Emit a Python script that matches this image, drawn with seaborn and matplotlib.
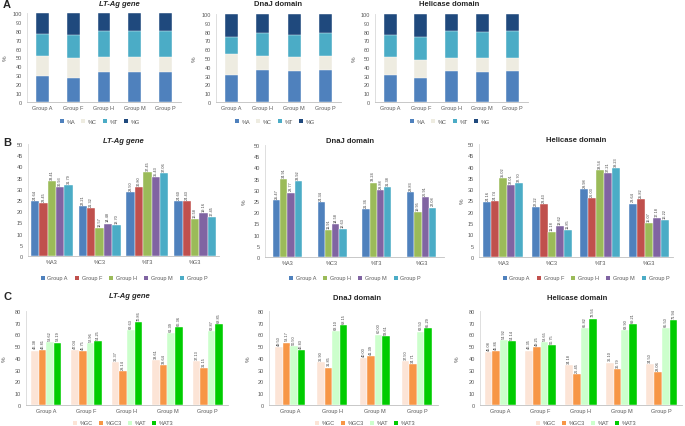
import numpy as np
import pandas as pd
import seaborn as sns
import matplotlib.pyplot as plt
from matplotlib.patches import Patch

sns.set_style('white')
plt.rcParams['font.family'] = ['Liberation Sans', 'DejaVu Sans']

W, H = 685, 427

# ---- data ----
groups5 = ['Group A', 'Group F', 'Group H', 'Group M', 'Group P']
groups4 = ['Group A', 'Group H', 'Group M', 'Group P']
bases = ['%A', '%C', '%T', '%G']
pos3 = ['%A3', '%C3', '%T3', '%G3']
content = ['%GC', '%GC3', '%AT', '%AT3']

# A: overall base composition per group
lt_A = [29.5, 27.3, 34.2, 33.2, 33.3]
lt_C = [22.5, 21.9, 16.3, 17.9, 17.2]
lt_T = [24.1, 25.7, 29.4, 28.2, 29.6]
lt_G = [23.9, 25.1, 20.1, 20.7, 19.9]

dj_A = [31.0, 36.8, 35.0, 36.2]
dj_C = [23.7, 15.8, 16.5, 15.8]
dj_T = [19.5, 26.3, 25.0, 26.3]
dj_G = [25.8, 21.1, 23.5, 21.7]

he_A = [30.2, 27.5, 35.5, 34.2, 35.0]
he_C = [20.8, 20.4, 14.5, 15.6, 14.8]
he_T = [24.7, 26.1, 30.3, 29.7, 30.5]
he_G = [24.3, 26.0, 19.7, 20.5, 19.7]

# B: third codon position composition (per group: A3, C3, T3, G3)
lt_pos3 = {
    'Group A': [24.64, 22.21, 28.50, 24.60],
    'Group F': [23.45, 21.32, 30.80, 24.43],
    'Group H': [33.41, 12.57, 37.45, 16.58],
    'Group M': [30.93, 14.48, 35.43, 19.16],
    'Group P': [31.79, 13.70, 37.06, 17.45],
}
dj_pos3 = {
    'Group A': [25.47, 24.34, 21.36, 28.83],
    'Group H': [34.91, 11.91, 33.24, 19.95],
    'Group M': [28.77, 14.58, 29.88, 26.91],
    'Group P': [33.92, 12.63, 31.38, 22.08],
}
he_pos3 = {
    'Group A': [24.16, 22.22, 29.98, 23.64],
    'Group F': [24.74, 23.43, 26.03, 25.82],
    'Group H': [35.02, 11.18, 38.54, 15.07],
    'Group M': [32.01, 13.62, 37.21, 17.18],
    'Group P': [32.70, 11.85, 39.23, 16.22],
}

# C: GC / AT content (per measure, over groups)
lt_content = {
    '%GC': [46.38, 47.04, 36.37, 38.61, 37.13],
    '%GC3': [46.81, 45.75, 29.14, 33.64, 31.15],
    '%AT': [53.62, 52.96, 63.63, 61.39, 62.87],
    '%AT3': [53.19, 54.25, 70.86, 66.36, 68.85],
}
dj_content = {
    '%GC': [49.50, 36.90, 40.00, 37.50],
    '%GC3': [53.17, 31.85, 41.39, 34.71],
    '%AT': [50.50, 63.10, 60.00, 62.50],
    '%AT3': [46.83, 68.15, 58.61, 65.29],
}
he_content = {
    '%GC': [45.08, 46.35, 34.18, 36.10, 34.50],
    '%GC3': [45.86, 49.25, 26.45, 30.79, 28.06],
    '%AT': [54.92, 53.65, 65.82, 63.90, 65.50],
    '%AT3': [54.14, 50.75, 73.56, 69.21, 71.94],
}

base_colors = {'%A': '#4F81BD', '%C': '#EEECE1', '%T': '#4BACC6', '%G': '#1F497D'}
group_colors = {'Group A': '#4F81BD', 'Group F': '#C0504D', 'Group H': '#9BBB59',
                'Group M': '#8064A2', 'Group P': '#4BACC6'}
content_colors = {'%GC': '#FCE4D6', '%GC3': '#F79646', '%AT': '#CCFFCC', '%AT3': '#00CC00'}

fig = plt.figure(figsize=(W / 100, H / 100), dpi=100)


def px_axes(x0, x1, ytop, ybot):
    return fig.add_axes([x0 / W, 1 - ybot / H, (x1 - x0) / W, (ybot - ytop) / H])


def style(ax, ymax, step, x0, x1, ylab_px=None):
    ax.set_ylim(0, ymax)
    ax.set_yticks(np.arange(0, ymax + 1, step))
    sns.despine(ax=ax)
    ax.spines['left'].set_color('#d9d9d9')
    ax.spines['bottom'].set_color('#bfbfbf')
    ax.spines['left'].set_linewidth(0.6)
    ax.spines['bottom'].set_linewidth(0.6)
    ax.tick_params(axis='both', labelsize=4, colors='#595959', pad=2)
    ax.tick_params(axis='x', length=0)
    ax.tick_params(axis='y', length=1.5, width=0.5, color='#d9d9d9')
    ax.set_xlabel('')
    if ylab_px is not None:
        ax.set_ylabel('%', fontsize=4.5, color='#595959', rotation=90)
        ax.yaxis.set_label_coords((ylab_px - x0) / (x1 - x0), 0.5)
    else:
        ax.set_ylabel('')


def stacked(rect, groups, A, C, T, G, ylab_px):
    ax = px_axes(*rect)
    df = pd.DataFrame({'%A': A, '%C': C, '%T': T, '%G': G}, index=groups)
    cum = df.cumsum(axis=1)
    for b in reversed(bases):
        sns.barplot(x=groups, y=cum[b].values, color=base_colors[b], width=0.42,
                    saturation=1, edgecolor='white', linewidth=0.3, ax=ax)
    style(ax, 100, 10, rect[0], rect[1], ylab_px)
    return ax


def grouped(rect, cats, hues, values, palette, width, ymax, step, ylab_px):
    ax = px_axes(*rect)
    rows = []
    for h in hues:
        for c, v in zip(cats, values[h]):
            rows.append((c, h, v))
    df = pd.DataFrame(rows, columns=['cat', 'hue', 'val'])
    sns.barplot(data=df, x='cat', y='val', hue='hue', order=cats, hue_order=hues,
                palette=palette, width=width, saturation=1, edgecolor='white',
                linewidth=0.3, legend=False, ax=ax)
    for cont in ax.containers:
        ax.bar_label(cont, fmt='%.2f', rotation=90, fontsize=2.8, padding=1.5,
                     color='#404040')
    style(ax, ymax, step, rect[0], rect[1], ylab_px)
    return ax


def legend(labels, colors, cx, cy, spacing=1.3):
    handles = [Patch(facecolor=colors[l], edgecolor='none', label=l) for l in labels]
    fig.legend(handles=handles, loc='center', bbox_to_anchor=(cx / W, 1 - cy / H),
               ncol=len(labels), frameon=False, fontsize=4, handlelength=0.7,
               handleheight=0.7, handletextpad=0.5, columnspacing=spacing,
               labelcolor='#595959')


def title(text, cx, cy, italic=False):
    fig.text(cx / W, 1 - cy / H, text, ha='center', va='center', fontsize=5.5,
             fontweight='bold', fontstyle='italic' if italic else 'normal')


# ---- row A ----
stacked((27, 181, 14, 103), groups5, lt_A, lt_C, lt_T, lt_G, 8)
stacked((216, 341, 15, 103), groups4, dj_A, dj_C, dj_T, dj_G, 197)
stacked((375, 528, 15, 103), groups5, he_A, he_C, he_T, he_G, 357)
title('LT-Ag gene', 119, 4, italic=True)
title('DnaJ domain', 278, 5)
title('Helicase domain', 449, 5)
legend(bases, base_colors, 100, 122, 1.1)
legend(bases, base_colors, 275, 122, 1.1)
legend(bases, base_colors, 450, 122, 1.1)

# ---- row B ----
grouped((28, 219, 145, 257), pos3, groups5, lt_pos3, group_colors, 0.88, 50, 5, None)
grouped((265, 444, 146, 258), pos3, groups4, dj_pos3, group_colors, 0.65, 50, 5, 247)
grouped((479, 673, 145, 258), pos3, groups5, he_pos3, group_colors, 0.82, 50, 5, 465)
title('LT-Ag gene', 123, 142, italic=True)
title('DnaJ domain', 350, 142)
title('Helicase domain', 576, 141)
legend(groups5, group_colors, 124, 279)
legend(groups4, group_colors, 355, 279)
legend(groups5, group_colors, 586, 279)

# ---- row C ----
grouped((26, 228, 312, 406), groups5, content, lt_content, content_colors, 0.75, 80, 10, 7)
grouped((269, 438, 312, 406), groups4, content, dj_content, content_colors, 0.71, 80, 10, 251)
grouped((480, 682, 312, 406), groups5, content, he_content, content_colors, 0.77, 80, 10, 460)
title('LT-Ag gene', 129, 297, italic=True)
title('DnaJ domain', 357, 299)
title('Helicase domain', 577, 299)
legend(content, content_colors, 123, 424, 1.1)
legend(content, content_colors, 365, 424, 1.1)
legend(content, content_colors, 586, 424, 1.1)

# panel letters
for letter, y in [('A', 5), ('B', 143), ('C', 297)]:
    fig.text(3 / W, 1 - y / H, letter, ha='left', va='center', fontsize=8,
             fontweight='bold')

plt.savefig('out.png', dpi=100)
